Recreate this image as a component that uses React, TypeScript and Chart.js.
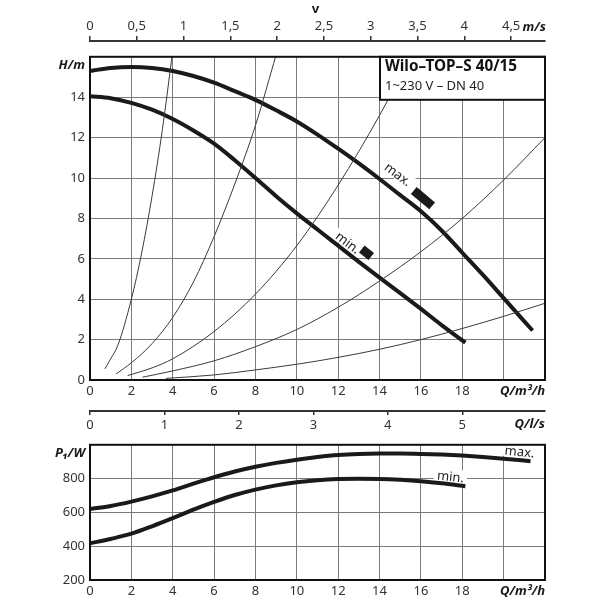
import React, { useEffect, useRef } from 'react';
import { Chart, registerables } from 'chart.js';
Chart.register(...registerables);

const FONT = "'Noto Sans', 'Open Sans', sans-serif";
const TICK_COLOR = '#333';
const GRID_COLOR = '#7a7a7a';
const CURVE_COLOR = '#1a1a1a';
const THIN_COLOR = '#3a3a3a';

// ---- Head curves H (m) vs Q (m³/h) ----
const qHMax = [0, 1, 2, 3, 4, 5, 6, 7, 8, 9, 10, 11, 12, 13, 14, 15, 16, 17, 18, 19, 20, 21, 21.4];
const hMaxSpeed = [15.3, 15.45, 15.5, 15.45, 15.3, 15.05, 14.72, 14.3, 13.87, 13.35, 12.8, 12.15, 11.45, 10.72, 9.95, 9.15, 8.35, 7.4, 6.3, 5.2, 4.05, 2.9, 2.45];
const qHMin = [0, 1, 2, 3, 4, 5, 6, 7, 8, 9, 10, 11, 12, 13, 14, 15, 16, 17, 18.15];
const hMinSpeed = [14.05, 13.95, 13.72, 13.38, 12.92, 12.35, 11.7, 10.88, 10.0, 9.1, 8.25, 7.45, 6.65, 5.85, 5.07, 4.3, 3.52, 2.72, 1.85];

// ---- System curves (thin lines) ----
const sys1Q = [0.72, 1.0, 1.34, 2.0, 2.5, 3.0, 3.5, 4.0];
const sys1H = [0.55, 1.05, 1.7, 4.0, 6.3, 9.1, 12.4, 16.3];
const sys2Q = [1.26, 2, 3, 4, 5, 6, 7, 8, 9];
const sys2H = [0.3, 0.85, 1.8, 3.1, 4.85, 7.1, 9.7, 12.6, 16.1];
const sys3Q = [1.82, 3, 4, 6, 8, 10, 12, 14, 15.6];
const sys3H = [0.22, 0.6, 1.05, 2.4, 4.25, 6.65, 9.65, 13.1, 16.2];
const sys4Q = [2.54, 4, 6, 8, 10, 12, 14, 16, 18, 20, 22];
const sys4H = [0.14, 0.45, 0.95, 1.65, 2.5, 3.6, 4.9, 6.35, 8.0, 9.9, 12.0];
const sys5Q = [3.67, 6, 8, 10, 12, 14, 16, 18, 20, 22];
const sys5H = [0.08, 0.25, 0.5, 0.78, 1.12, 1.52, 2.0, 2.55, 3.15, 3.8];

// ---- Power curves P1 (W) vs Q (m³/h) ----
const qPMax = [0, 1, 2, 3, 4, 5, 6, 7, 8, 9, 10, 11, 12, 13, 14, 15, 16, 17, 18, 19, 20, 21.3];
const pMaxSpeed = [620, 638, 664, 695, 730, 770, 808, 842, 870, 893, 912, 928, 940, 946, 948, 948, 946, 942, 936, 928, 918, 903];
const qPMin = [0, 1, 2, 3, 4, 5, 6, 7, 8, 9, 10, 11, 12, 13, 14, 15, 16, 17, 18.15];
const pMinSpeed = [417, 443, 474, 518, 566, 616, 662, 703, 735, 760, 778, 790, 797, 799, 798, 793, 785, 773, 755];

// ---- Axes ----
const Q_MAX = 22;
const Q_STEP = 2;
const Q_LAST_LABEL = 18;
const H_MAX = 16;
const H_STEP = 2;
const P_MIN = 200;
const P_MAX = 1000;
const P_STEP = 200;
const V_PER_Q = 0.221; // m/s per m³/h for DN 40
const V_STEP = 0.5;
const LS_PER_Q = 1 / 3.6;
const LS_LAST = 5;

const TITLE = 'Wilo–TOP–S 40/15';
const SUBTITLE = '1~230 V – DN 40';

const pts = (xs: number[], ys: number[]) => xs.map((x, i) => ({ x, y: ys[i] }));

const thin = (xs: number[], ys: number[]) => ({
  data: pts(xs, ys),
  borderColor: THIN_COLOR,
  borderWidth: 1,
  pointRadius: 0,
  cubicInterpolationMode: 'monotone',
  fill: false,
});
const thick = (xs: number[], ys: number[]) => ({
  data: pts(xs, ys),
  borderColor: CURVE_COLOR,
  borderWidth: 4,
  pointRadius: 0,
  cubicInterpolationMode: 'monotone',
  fill: false,
});

function drawText(ctx: CanvasRenderingContext2D, str: string, x: number, y: number, font: string, align: CanvasTextAlign = 'left', color = '#1a1a1a', fitWidth = 0) {
  ctx.save();
  ctx.font = font;
  ctx.fillStyle = color;
  ctx.textAlign = align;
  ctx.textBaseline = 'middle';
  const w = ctx.measureText(str).width;
  if (fitWidth && w > fitWidth) {
    ctx.translate(x, y);
    ctx.scale(fitWidth / w, 1);
    ctx.fillText(str, 0, 0);
  } else {
    ctx.fillText(str, x, y);
  }
  ctx.restore();
}

function drawTag(ctx: CanvasRenderingContext2D, cx: number, cy: number, angle: number, str: string) {
  ctx.save();
  ctx.translate(cx, cy);
  ctx.rotate((angle * Math.PI) / 180);
  ctx.font = `13px ${FONT}`;
  const w = ctx.measureText(str).width;
  ctx.fillStyle = '#fff';
  ctx.fillRect(-w / 2 - 3, -8, w + 6, 13);
  ctx.fillStyle = '#222';
  ctx.textAlign = 'center';
  ctx.textBaseline = 'middle';
  ctx.fillText(str, 0, 0);
  ctx.restore();
}

function drawMarker(ctx: CanvasRenderingContext2D, cx: number, cy: number, angle: number, w: number, h: number) {
  ctx.save();
  ctx.translate(cx, cy);
  ctx.rotate((angle * Math.PI) / 180);
  ctx.fillStyle = '#1a1a1a';
  ctx.fillRect(-w / 2, -h / 2, w, h);
  ctx.restore();
}

const tickFont = { family: FONT, size: 13 };
const titleFont = `italic bold 13px ${FONT}`;

const topDecor = {
  id: 'topDecor',
  beforeDatasetsDraw(chart: any) {
    const { ctx, scales } = chart;
    const x = scales.x;
    const y = scales.y;
    drawTag(ctx, x.getPixelForValue(14.87), y.getPixelForValue(10.15), 37, 'max.');
    drawTag(ctx, x.getPixelForValue(12.45), y.getPixelForValue(6.77), 37, 'min.');
  },
  afterDraw(chart: any) {
    const { ctx, chartArea: ca, scales } = chart;
    const x = scales.x;
    const y = scales.y;
    drawMarker(ctx, x.getPixelForValue(16.1), y.getPixelForValue(9.0), 40, 24, 9);
    drawMarker(ctx, x.getPixelForValue(13.37), y.getPixelForValue(6.3), 38, 12, 9);
    // legend box
    const bx = ca.right - 165;
    const by = ca.top;
    ctx.save();
    ctx.fillStyle = '#fff';
    ctx.fillRect(bx, by, 165, 43);
    ctx.strokeStyle = '#111';
    ctx.lineWidth = 2;
    ctx.strokeRect(bx, by, 165, 43);
    ctx.restore();
    drawText(ctx, TITLE, bx + 5, by + 10, `bold 16px ${FONT}`, 'left', '#111', 132);
    drawText(ctx, SUBTITLE, bx + 5, by + 29, `13px ${FONT}`, 'left', '#222', 100);
    // frame
    ctx.save();
    ctx.strokeStyle = '#111';
    ctx.lineWidth = 2;
    ctx.strokeRect(ca.left, ca.top, ca.right - ca.left, ca.bottom - ca.top);
    ctx.restore();
    // axis titles
    drawText(ctx, 'H/m', ca.left - 5, ca.top + 8, titleFont, 'right');
    drawText(ctx, 'Q/m³/h', ca.right, ca.bottom + 11, titleFont, 'right');
  },
};

const bottomDecor = {
  id: 'bottomDecor',
  beforeDatasetsDraw(chart: any) {
    const { ctx, scales } = chart;
    const x = scales.x;
    const y = scales.y;
    drawTag(ctx, x.getPixelForValue(20.77), y.getPixelForValue(955), 6, 'max.');
    drawTag(ctx, x.getPixelForValue(17.43), y.getPixelForValue(808), 6, 'min.');
  },
  afterDraw(chart: any) {
    const { ctx, chartArea: ca } = chart;
    ctx.save();
    ctx.strokeStyle = '#111';
    ctx.lineWidth = 2;
    ctx.strokeRect(ca.left, ca.top, ca.right - ca.left, ca.bottom - ca.top);
    ctx.restore();
    drawText(ctx, 'P₁/W', ca.left - 5, ca.top + 8, titleFont, 'right');
    drawText(ctx, 'Q/m³/h', ca.right, ca.bottom + 11, titleFont, 'right');
  },
};

const vDecor = {
  id: 'vDecor',
  afterDraw(chart: any) {
    const { ctx, chartArea: ca } = chart;
    drawText(ctx, 'v', (ca.left + ca.right) / 2 - 2, 9, `bold 13px ${FONT}`, 'center');
    drawText(ctx, 'm/s', ca.right + 1, 27, titleFont, 'right');
  },
};

const lsDecor = {
  id: 'lsDecor',
  afterDraw(chart: any) {
    const { ctx, chartArea: ca } = chart;
    drawText(ctx, 'Q/l/s', ca.right, ca.bottom + 13, titleFont, 'right');
  },
};

const commonPlugins = { legend: { display: false }, tooltip: { enabled: false } };

const gridOpts = { color: GRID_COLOR, lineWidth: 1, drawTicks: false };

function makeTop(): any {
  return {
    type: 'line',
    data: {
      datasets: [
        thin(sys1Q, sys1H),
        thin(sys2Q, sys2H),
        thin(sys3Q, sys3H),
        thin(sys4Q, sys4H),
        thin(sys5Q, sys5H),
        thick(qHMax, hMaxSpeed),
        thick(qHMin, hMinSpeed),
      ],
    },
    options: {
      responsive: false,
      animation: false,
      devicePixelRatio: 1,
      layout: { padding: { left: 0, right: 55, top: 5, bottom: 0 } },
      plugins: commonPlugins,
      scales: {
        x: {
          type: 'linear', min: 0, max: Q_MAX,
          afterFit: (s: any) => { s.height = 26; },
          ticks: { stepSize: Q_STEP, includeBounds: false, autoSkip: false, maxRotation: 0, padding: 3, font: tickFont, color: TICK_COLOR,
            callback: (v: any) => (v <= Q_LAST_LABEL ? String(v) : '') },
          grid: gridOpts,
          border: { display: false },
        },
        y: {
          type: 'linear', min: 0, max: H_MAX,
          afterFit: (s: any) => { s.width = 90; },
          ticks: { stepSize: H_STEP, includeBounds: false, padding: 5, font: tickFont, color: TICK_COLOR,
            callback: (v: any) => (v < H_MAX ? String(v) : '') },
          grid: gridOpts,
          border: { display: false },
        },
      },
    },
    plugins: [topDecor],
  };
}

function makeBottom(): any {
  return {
    type: 'line',
    data: {
      datasets: [thick(qPMax, pMaxSpeed), thick(qPMin, pMinSpeed)],
    },
    options: {
      responsive: false,
      animation: false,
      devicePixelRatio: 1,
      layout: { padding: { left: 0, right: 55, top: 6, bottom: 0 } },
      plugins: commonPlugins,
      scales: {
        x: {
          type: 'linear', min: 0, max: Q_MAX,
          afterFit: (s: any) => { s.height = 20; },
          ticks: { stepSize: Q_STEP, includeBounds: false, autoSkip: false, maxRotation: 0, padding: 3, font: tickFont, color: TICK_COLOR,
            callback: (v: any) => (v <= Q_LAST_LABEL ? String(v) : '') },
          grid: gridOpts,
          border: { display: false },
        },
        y: {
          type: 'linear', min: P_MIN, max: P_MAX,
          afterFit: (s: any) => { s.width = 90; },
          ticks: { stepSize: P_STEP, includeBounds: false, padding: 5, font: tickFont, color: TICK_COLOR,
            callback: (v: any) => (v < P_MAX ? String(v) : '') },
          grid: gridOpts,
          border: { display: false },
        },
      },
    },
    plugins: [bottomDecor],
  };
}

function makeV(): any {
  return {
    type: 'line',
    data: { datasets: [] },
    options: {
      responsive: false,
      animation: false,
      devicePixelRatio: 1,
      layout: { padding: { left: 90, right: 55, top: 0, bottom: 0 } },
      plugins: commonPlugins,
      scales: {
        x: {
          type: 'linear', position: 'top', min: 0, max: Q_MAX * V_PER_Q,
          afterFit: (s: any) => { s.height = 41; },
          ticks: { stepSize: V_STEP, includeBounds: false, autoSkip: false, maxRotation: 0, padding: 2, font: tickFont, color: TICK_COLOR,
            callback: (v: any) => String(v).replace('.', ',') },
          grid: { drawOnChartArea: false, drawTicks: true, tickLength: 5, color: '#333', lineWidth: 1.5 },
          border: { display: true, color: '#333', width: 2 },
        },
        y: { display: false, min: 0, max: 1 },
      },
    },
    plugins: [vDecor],
  };
}

function makeLs(): any {
  return {
    type: 'line',
    data: { datasets: [] },
    options: {
      responsive: false,
      animation: false,
      devicePixelRatio: 1,
      layout: { padding: { left: 90, right: 55, top: 0, bottom: 0 } },
      plugins: commonPlugins,
      scales: {
        x: {
          type: 'linear', position: 'bottom', min: 0, max: Q_MAX * LS_PER_Q,
          afterFit: (s: any) => { s.height = 25; },
          afterBuildTicks: (s: any) => { s.ticks = s.ticks.filter((t: any) => t.value <= LS_LAST); },
          ticks: { stepSize: 1, includeBounds: false, autoSkip: false, maxRotation: 0, padding: 2, font: tickFont, color: TICK_COLOR },
          grid: { drawOnChartArea: false, drawTicks: true, tickLength: 4, color: '#333', lineWidth: 1.5 },
          border: { display: true, color: '#333', width: 2 },
        },
        y: { display: false, min: 0, max: 1 },
      },
    },
    plugins: [lsDecor],
  };
}

function ChartCanvas({ top, height, make }: { top: number; height: number; make: () => any }) {
  const ref = useRef<HTMLCanvasElement>(null);
  useEffect(() => {
    const chart = new Chart(ref.current as HTMLCanvasElement, make());
    return () => chart.destroy();
  }, []);
  return (
    <canvas
      ref={ref}
      width={600}
      height={height}
      style={{ position: 'absolute', left: 0, top, width: 600, height }}
    />
  );
}

export default function App() {
  return (
    <div style={{ position: 'fixed', left: 0, top: 0, width: 600, height: 600, background: '#fff', overflow: 'hidden' }}>
      <ChartCanvas top={0} height={46} make={makeV} />
      <ChartCanvas top={44} height={362} make={makeTop} />
      <ChartCanvas top={400} height={36} make={makeLs} />
      <ChartCanvas top={432} height={168} make={makeBottom} />
    </div>
  );
}
